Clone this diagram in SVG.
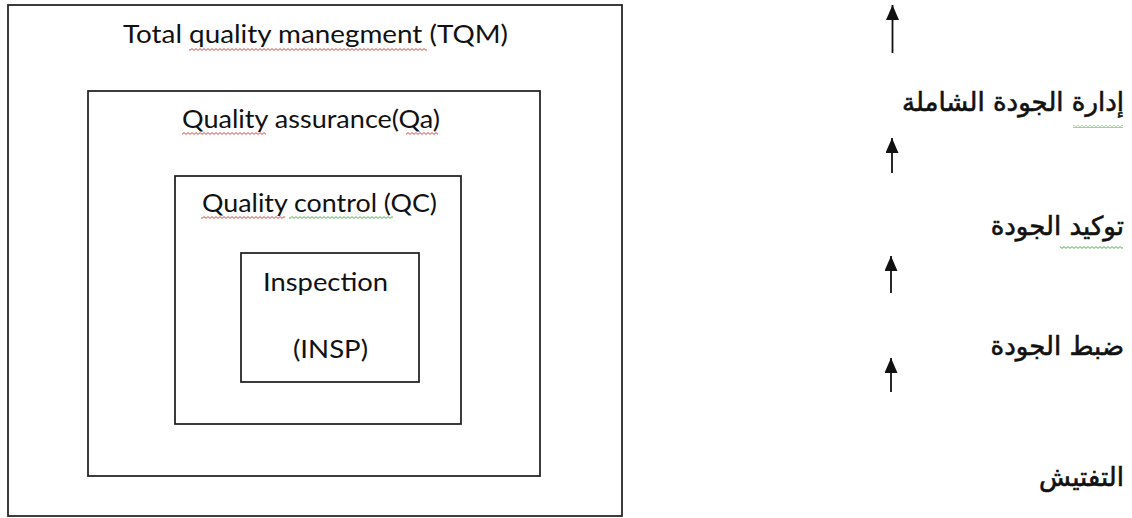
<svg xmlns="http://www.w3.org/2000/svg" width="1132" height="518" viewBox="0 0 1132 518">
  <style>
    .box { fill: none; stroke: #1a1a1a; stroke-width: 1.7; }
    .lbl { font-family: Lato, "Open Sans", sans-serif; font-size: 25px; fill: #111; }
    .ar { font-family: "DejaVu Sans", sans-serif; font-size: 26px; fill: #111; stroke: #111; stroke-width: 0.6; text-anchor: end; }
    .arrow { stroke: #111; stroke-width: 1.8; fill: none; marker-end: url(#head); }
  </style>
  <defs>
    <marker id="head" viewBox="0 0 15 13" refX="15" refY="6.5" markerWidth="15" markerHeight="13" markerUnits="userSpaceOnUse" orient="auto">
      <path d="M15 6.5 L0 0 L0 13 Z" fill="#111"/>
    </marker>
    <pattern id="waveRed" width="4" height="3" patternUnits="userSpaceOnUse">
      <path d="M0 0.6 L2 2.4 L4 0.6" fill="none" stroke="#e0302a" stroke-width="0.9"/>
    </pattern>
    <pattern id="waveGreen" width="4" height="3" patternUnits="userSpaceOnUse">
      <path d="M0 0.6 L2 2.4 L4 0.6" fill="none" stroke="#3aa53a" stroke-width="0.9"/>
    </pattern>
  </defs>

  <!-- nested boxes -->
  <g id="tqm">
    <rect class="box" x="8" y="5" width="614" height="511"/>
    <text class="lbl" x="123" y="43" textLength="385" lengthAdjust="spacingAndGlyphs">Total quality manegment (TQM)</text>
    <rect x="189" y="48" width="238" height="3" fill="url(#waveRed)"/>
  </g>
  <g id="qa">
    <rect class="box" x="88" y="91" width="452" height="385"/>
    <text class="lbl" x="182" y="128" textLength="258" lengthAdjust="spacingAndGlyphs">Quality assurance(Qa)</text>
    <rect x="182" y="132" width="84" height="3" fill="url(#waveRed)"/>
    <rect x="406" y="132" width="32" height="3" fill="url(#waveRed)"/>
  </g>
  <g id="qc">
    <rect class="box" x="175" y="176" width="286" height="248"/>
    <text class="lbl" x="202" y="212" textLength="235" lengthAdjust="spacingAndGlyphs">Quality control (QC)</text>
    <rect x="201" y="216" width="84" height="3" fill="url(#waveRed)"/>
    <rect x="289" y="216" width="104" height="3" fill="url(#waveGreen)"/>
  </g>
  <g id="insp">
    <rect class="box" x="241" y="253" width="178" height="129"/>
    <text class="lbl" x="263" y="291" textLength="125" lengthAdjust="spacingAndGlyphs">Inspection</text>
    <text class="lbl" x="293" y="358" textLength="75" lengthAdjust="spacingAndGlyphs">(INSP)</text>
  </g>

  <!-- Arabic hierarchy labels -->
  <g id="ar-tqm">
    <text class="ar" x="1124" y="111">إدارة الجودة الشاملة</text>
    <rect x="1073" y="125" width="50" height="3" fill="url(#waveGreen)"/>
  </g>
  <g id="ar-qa">
    <text class="ar" x="1124" y="235">توكيد الجودة</text>
    <rect x="1060" y="246" width="63" height="3" fill="url(#waveGreen)"/>
  </g>
  <g id="ar-qc">
    <text class="ar" x="1124" y="355">ضبط الجودة</text>
  </g>
  <g id="ar-insp">
    <text class="ar" x="1124" y="486">التفتيش</text>
  </g>

  <!-- upward arrows between levels -->
  <g id="connectors">
    <line class="arrow" x1="892.5" y1="53" x2="892.5" y2="5"/>
    <line class="arrow" x1="892" y1="173" x2="892" y2="138"/>
    <line class="arrow" x1="891" y1="293" x2="891" y2="256"/>
    <line class="arrow" x1="891" y1="392" x2="891" y2="358"/>
  </g>
</svg>
